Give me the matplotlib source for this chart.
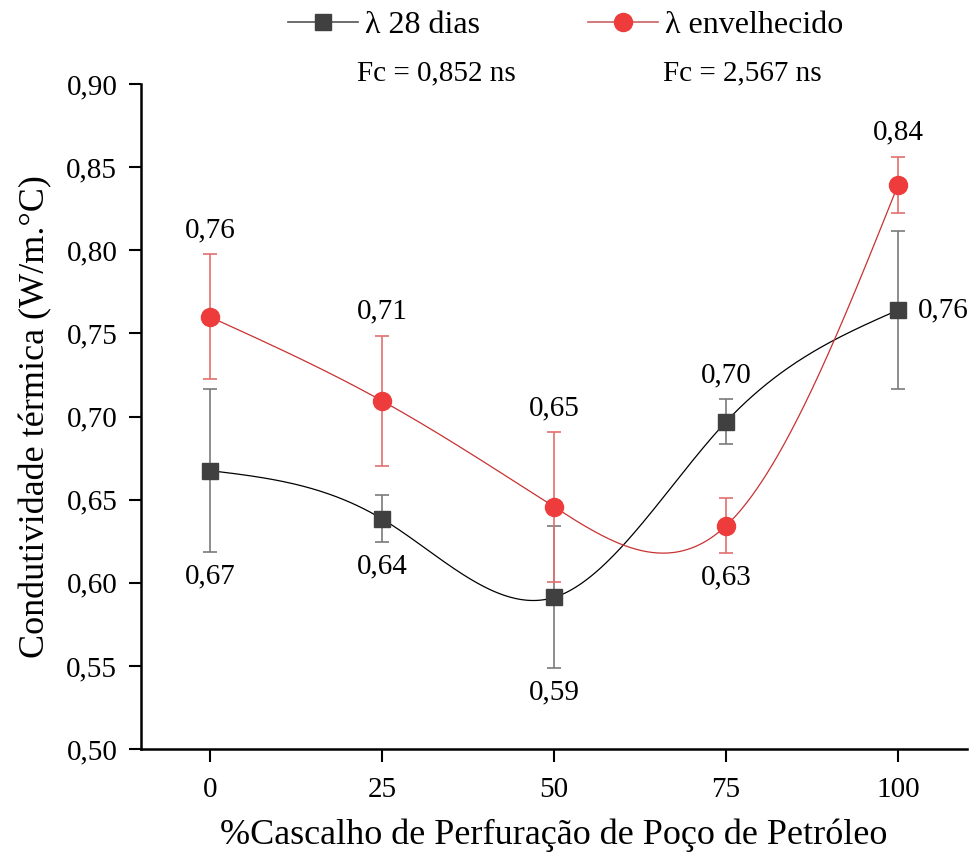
import numpy as np
import matplotlib
matplotlib.use("Agg")
import matplotlib.pyplot as plt
from matplotlib.lines import Line2D

plt.rcParams['font.family'] = ['Liberation Serif', 'DejaVu Serif']

# ---- data ----
x_vals = [0, 25, 50, 75, 100]
y28 = [0.6675, 0.6385, 0.5912, 0.6969, 0.7641]
err28 = [0.0490, 0.0141, 0.0427, 0.0136, 0.0474]
yenv = [0.7600, 0.7095, 0.6457, 0.6343, 0.8395]
errenv = [0.0376, 0.0390, 0.0450, 0.0165, 0.0168]
lab28 = ['0,67', '0,64', '0,59', '0,70', '0,76']
labenv = ['0,76', '0,71', '0,65', '0,63', '0,84']
pos28 = ['below', 'below', 'below', 'above', 'right']
posenv = ['above', 'above', 'above', 'below', 'above']
yticks = [0.50, 0.55, 0.60, 0.65, 0.70, 0.75, 0.80, 0.85, 0.90]
ytick_labels = ['0,50', '0,55', '0,60', '0,65', '0,70', '0,75', '0,80', '0,85', '0,90']
xticks = [0, 25, 50, 75, 100]
series_names = ['λ 28 dias', 'λ envelhecido']
fc_texts = ['Fc = 0,852 ns', 'Fc = 2,567 ns']
xlabel = '%Cascalho de Perfuração de Poço de Petróleo'
ylabel = 'Condutividade térmica (W/m.°C)'


def natural_spline(x, y, n=400):
    x = np.asarray(x, float)
    y = np.asarray(y, float)
    k = len(x)
    h = np.diff(x)
    A = np.zeros((k, k))
    b = np.zeros(k)
    A[0, 0] = 1
    A[-1, -1] = 1
    for i in range(1, k - 1):
        A[i, i - 1] = h[i - 1]
        A[i, i] = 2 * (h[i - 1] + h[i])
        A[i, i + 1] = h[i]
        b[i] = 3 * ((y[i + 1] - y[i]) / h[i] - (y[i] - y[i - 1]) / h[i - 1])
    c = np.linalg.solve(A, b)
    xs = np.linspace(x[0], x[-1], n)
    ys = np.empty_like(xs)
    for j, xv in enumerate(xs):
        i = min(np.searchsorted(x, xv, side='right') - 1, k - 2)
        dx = xv - x[i]
        bb = (y[i + 1] - y[i]) / h[i] - h[i] * (2 * c[i] + c[i + 1]) / 3
        d = (c[i + 1] - c[i]) / (3 * h[i])
        ys[j] = y[i] + bb * dx + c[i] * dx ** 2 + d * dx ** 3
    return xs, ys


fig = plt.figure(figsize=(9.75, 8.58), dpi=100)
ax = fig.add_axes([0.1446, 0.127, 0.8472, 0.775])

dark = '#404040'
red = '#ee3b3b'

# black series
xs, ys = natural_spline(x_vals, y28)
ax.plot(xs, ys, color='black', lw=0.9, zorder=2)
ax.errorbar(x_vals, y28, yerr=err28, fmt='none', ecolor='#7a7a7a', elinewidth=1.2,
            capsize=5, capthick=1.2, zorder=3)
ax.plot(x_vals, y28, ls='none', marker='s', ms=11, color=dark, zorder=4)

# red series
xs, ys = natural_spline(x_vals, yenv)
ax.plot(xs, ys, color='#c83232', lw=0.9, zorder=2)
ax.errorbar(x_vals, yenv, yerr=errenv, fmt='none', ecolor='#e07070', elinewidth=1.2,
            capsize=5, capthick=1.2, zorder=3)
ax.plot(x_vals, yenv, ls='none', marker='o', ms=13, color=red, zorder=4)

# value labels
fs_ann = 21
for xv, yv, e, lab, p in list(zip(x_vals, y28, err28, lab28, pos28)) + \
        list(zip(x_vals, yenv, errenv, labenv, posenv)):
    if p == 'above':
        ax.annotate(lab, xy=(xv, yv + e), xytext=(0, 8), textcoords='offset points',
                    ha='center', va='bottom', fontsize=fs_ann)
    elif p == 'below':
        ax.annotate(lab, xy=(xv, yv - e), xytext=(0, -8), textcoords='offset points',
                    ha='center', va='top', fontsize=fs_ann)
    else:
        ax.annotate(lab, xy=(xv, yv), xytext=(14, 0), textcoords='offset points',
                    ha='left', va='center', fontsize=fs_ann)

ax.set_xlim(-10, 110)
ax.set_ylim(0.50, 0.90)
ax.set_xticks(xticks)
ax.set_xticklabels([str(t) for t in xticks])
ax.set_yticks(yticks)
ax.set_yticklabels(ytick_labels)
ax.tick_params(axis='both', direction='out', length=9, width=1.5, labelsize=21, pad=8)
ax.tick_params(axis='x', pad=11)
for s in ['top', 'right']:
    ax.spines[s].set_visible(False)
for s in ['left', 'bottom']:
    ax.spines[s].set_linewidth(1.8)

ax.set_xlabel(xlabel, fontsize=26, labelpad=11)
ax.set_ylabel(ylabel, fontsize=26, labelpad=10)

# legend
h1 = Line2D([], [], color='#555555', lw=1.2, marker='s', ms=11, mfc=dark, mec=dark)
h2 = Line2D([], [], color='#d06060', lw=1.2, marker='o', ms=13, mfc=red, mec=red)
fig.legend([h1, h2], series_names, loc='center', bbox_to_anchor=(0.58, 0.970), ncol=2,
           frameon=False, fontsize=23, handlelength=2.2, columnspacing=3.4, handletextpad=0.2)

fig.text(0.448, 0.915, fc_texts[0], ha='center', va='center', fontsize=21)
fig.text(0.761, 0.915, fc_texts[1], ha='center', va='center', fontsize=21)

fig.savefig('out.png', dpi=100)
